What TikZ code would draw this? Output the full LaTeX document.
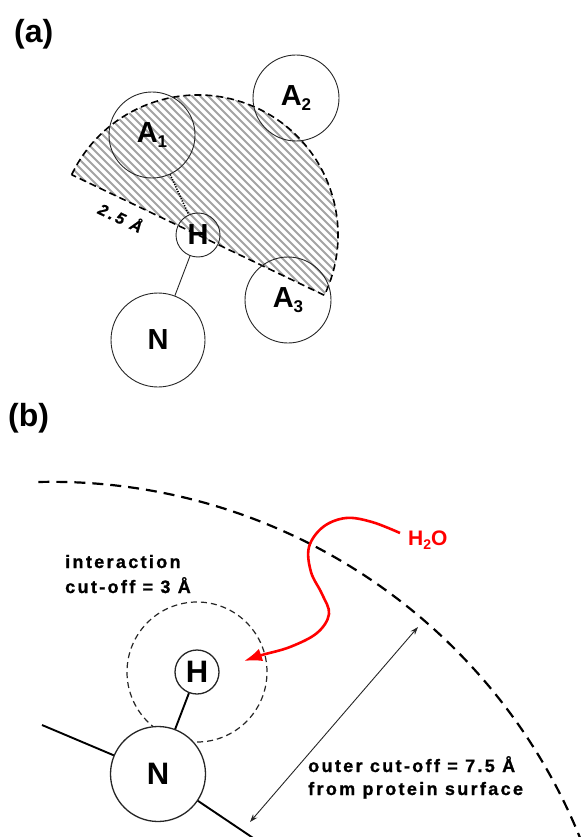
\documentclass[tikz,border=0pt]{standalone}
\usepackage{fontspec}
\setmainfont{Liberation Sans}
\newfontfamily\spacedfont[LetterSpace=13, BoldFeatures={FakeBold=1}]{Liberation Sans}
\newfontfamily\widefont[LetterSpace=18, BoldItalicFeatures={FakeBold=1}]{Liberation Sans}
\usetikzlibrary{arrows.meta}
\newcommand{\sbs}[3]{\raisebox{-#2pt}{\fontsize{#1}{#1}\selectfont #3}}
\tikzset{
  x=1pt, y=1pt,
  atomA/.style={circle, draw=black!85, line width=0.9pt, inner sep=0pt,
    font=\fontsize{29}{29}\selectfont\bfseries},
  atomB/.style={circle, draw=black!85, line width=1.3pt, inner sep=0pt, fill=white,
    font=\fontsize{31}{31}\selectfont\bfseries},
  plab/.style={anchor=base west, inner sep=0pt, font=\fontsize{32}{32}\selectfont\bfseries},
  txtb/.style={anchor=base west, inner sep=0pt, font=\fontsize{18}{18}\spacedfont\bfseries},
  hatchline/.style={draw=black!36, line width=2.1pt},
  sectorborder/.style={draw=black, line width=1.6pt, dash pattern=on 7pt off 4pt},
  outerdash/.style={draw=black, line width=2.2pt, dash pattern=on 11pt off 7pt},
  innerdash/.style={draw=black!85, line width=1.2pt, dash pattern=on 6pt off 4pt},
  bond/.style={draw=black, line width=1.9pt},
}
\begin{document}
\begin{tikzpicture}
\useasboundingbox (0,0) rectangle (581,-837);
\begin{scope}
\clip (0,0) rectangle (581,-837);

% ---------------- (a) ----------------
\node[plab] (la) at (14,-43) {(a)};
\coordinate (Hc) at (198,-235);
\begin{scope}
  \clip (Hc) ++(154.5:140) arc (154.5:-25.5:140) -- cycle;
  \foreach \c in {-264,-256,...,264}
    \draw[hatchline] (\c+80,-80) -- (\c+320,-320);
\end{scope}
\draw[sectorborder] (Hc) ++(154.5:140) arc (154.5:-25.5:140) -- cycle;

\node[atomA, minimum size=86pt] (A1) at (152,-135) {A\sbs{17}{5}{1}};
\node[atomA, minimum size=86pt] (A2) at (296,-98) {A\sbs{17}{5}{2}};
\node[atomA, minimum size=86pt] (A3) at (288,-300) {A\sbs{17}{5}{3}};
\node[atomA, minimum size=44pt] (Ha) at (198,-235) {H};
\node[atomA, minimum size=94pt] (Na) at (158,-340) {N};
\draw[black!85, line width=0.9pt] (Ha) -- (Na);
\draw[black, line width=1.6pt, dash pattern=on 1.2pt off 1.4pt] (A1) -- (Ha);
\node[rotate=-25.5, inner sep=0pt, font=\fontsize{16}{16}\widefont\bfseries\itshape] (d25) at (121,-217) {2.5 Å};

% ---------------- (b) ----------------
\node[plab] (lb) at (8,-426) {(b)};
\coordinate (Oc) at (51.3,-1052.4);
\draw[outerdash] (Oc) ++(91.3:570.6) arc (91.3:18:570.6);

\coordinate (Hbc) at (197,-672);
\draw[innerdash] (Hbc) circle (70);

\coordinate (L) at (42,-725);
\coordinate (R) at (268,-848);
\node[atomB, minimum size=44pt] (Hb) at (197,-672) {H};
\draw[bond] (L) -- (158,-774);
\draw[bond] (158,-774) -- (R);
\draw[bond] (Hb) -- (158,-774);
\node[atomB, minimum size=95pt] (Nb) at (158,-774) {N};

\coordinate (P1) at (250,-822);
\coordinate (P2) at (418,-627);
\draw[black!85, line width=0.9pt, {Stealth[length=8pt,width=5.5pt]}-{Stealth[length=8pt,width=5.5pt]}] (P1) -- (P2);

\node[txtb] (t1) at (65,-568) {interaction};
\node[txtb] (t2) at (65,-593) {cut-off = 3 Å};
\node[txtb] (t3) at (308,-772) {outer cut-off = 7.5 Å};
\node[txtb] (t4) at (308,-795) {from protein surface};

\node[anchor=base west, inner sep=0pt, text=red, font=\fontsize{21}{21}\selectfont\bfseries] (w) at (408,-545) {H\sbs{14}{4}{2}O};
\coordinate (w0) at (400,-533);
\coordinate (wtip) at (238,-662);
\draw[red, line width=2.6pt, -{Latex[length=18pt,width=13pt]}]
  plot[smooth, tension=0.6] coordinates {(400,-533) (372,-522) (346,-518) (323,-527) (309,-547) (311,-572) (322,-594) (329,-614) (317,-633) (290,-647) (262,-655) (244,-661)};
\end{scope}
\end{tikzpicture}
\end{document}
